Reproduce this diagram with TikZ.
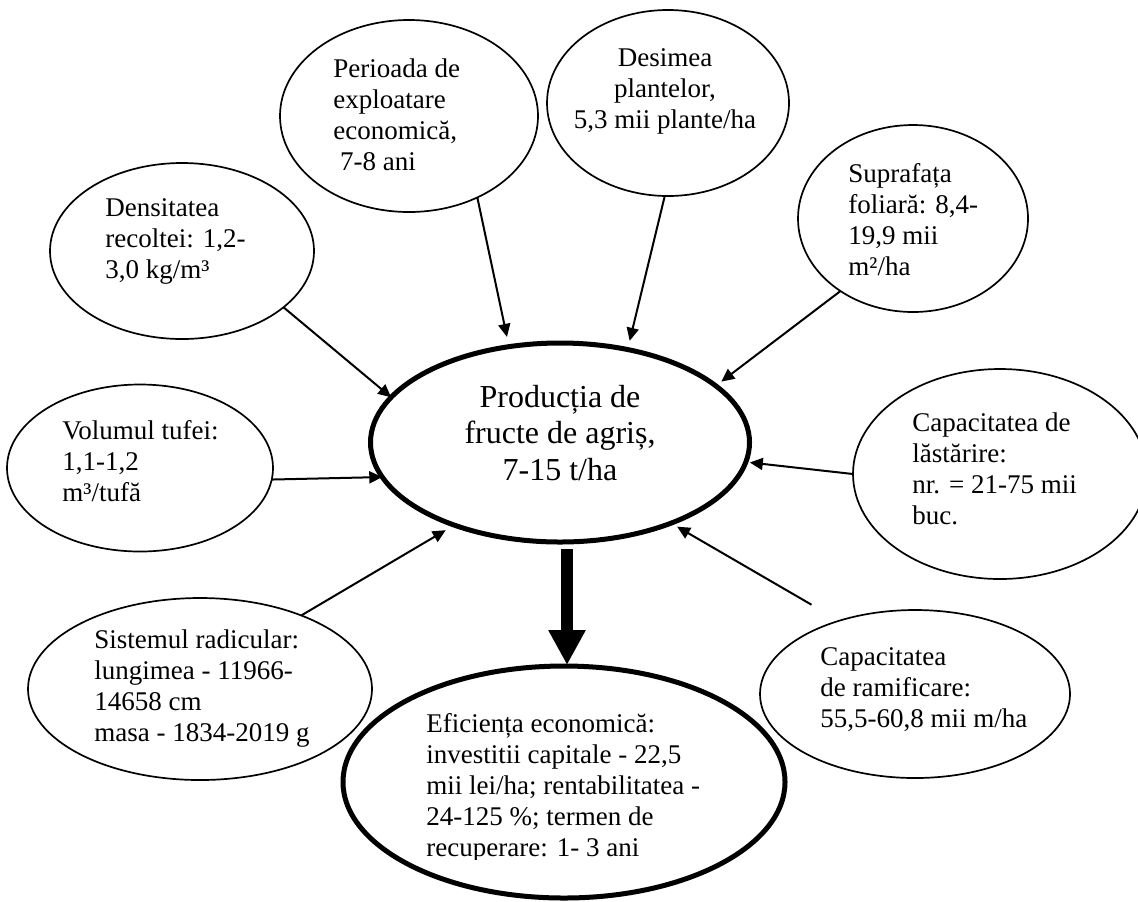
\documentclass[tikz,border=0pt]{standalone}
\usepackage{fontspec}
\setmainfont{Liberation Serif}
\usetikzlibrary{shapes.geometric,arrows.meta}
\tikzset{
  oval/.style={ellipse,draw,line width=0.85pt,inner sep=0pt,outer sep=0pt},
  thickoval/.style={oval,line width=2.5pt},
  txt/.style={inner sep=0pt,align=left,anchor=north west,
    font=\fontsize{13.5}{15.5}\selectfont,execute at begin node=\strut},
  ctxt/.style={txt,align=center,anchor=north,font=\fontsize{16}{18.25}\selectfont},
  arr/.style={line width=1pt,-{Triangle[length=6.5pt,width=6pt]}},
  bigarr/.style={line width=6pt,-{Triangle[length=17.5pt,width=17.5pt]}}
}
\def\bubble#1#2#3#4{%
  \draw (#1) node[oval,minimum width=#2pt,minimum height=#3pt] (#4) {};
}

\begin{document}
\begin{tikzpicture}[x=0.5pt,y=-0.5pt]
\useasboundingbox (0,0) rectangle (1138,901);
\draw (560,442.5) node[thickoval,minimum width=189.5pt,minimum height=99.5pt] (prod) {};
\draw (564,782) node[thickoval,minimum width=221pt,minimum height=116pt] (efic) {};
\bubble{409,116}{129}{96}{per}
\bubble{668,103}{121}{93}{des}
\bubble{913,218.5}{115}{93.5}{sup}
\bubble{182,251}{132}{88}{dens}
\bubble{140,468}{133}{83.5}{vol}
\bubble{200,689}{172}{91}{sis}
\bubble{1000,474}{147}{105}{las}
\bubble{915,694}{155}{84}{ram}

\draw (560,384.5) node[ctxt] (prodtxt) {Producția de\\fructe de agriș,\\7-15 t/ha};
\draw (333,58) node[txt] (pertxt) {Perioada de\\exploatare\\economică,\\\ 7-8 ani};
\draw (665,48) node[ctxt,font=\fontsize{13.5}{15.5}\selectfont] (destxt) {Desimea\\plantelor,\\5,3 mii plante/ha};
\draw (848,163) node[txt] (suptxt) {Suprafața\\foliară: 8,4-\\19,9 mii\\m²/ha};
\draw (105,198) node[txt] (denstxt) {Densitatea\\recoltei: 1,2-\\3,0 kg/m³};
\draw (62,420) node[txt] (voltxt) {Volumul tufei:\\1,1-1,2\\m³/tufă};
\draw (94,629) node[txt] (sistxt) {Sistemul radicular:\\lungimea - 11966-\\14658 cm\\masa - 1834-2019 g};
\draw (912,412) node[txt] (lastxt) {Capacitatea de\\lăstărire:\\nr. = 21-75 mii\\buc.};
\draw (820,647) node[txt] (ramtxt) {Capacitatea\\de ramificare:\\55,5-60,8 mii m/ha};
\begin{scope}
\clip (0,0) rectangle (1138,859);
\draw (426,713) node[txt] (efictxt) {Eficiența economică:\\investitii capitale - 22,5\\mii lei/ha; rentabilitatea -\\24-125 \%; termen de\\recuperare: 1- 3 ani};
\end{scope}

\draw[arr] (dens.-29.4) -- (prod.165);
\draw[arr,shorten >=5pt] (per.-50) -- (prod.118);
\draw[arr,shorten >=4.5pt] (des.-92) -- (prod.54.4);
\draw[arr,shorten >=3.5pt] (sup.-135.8) -- (prod.20.4);
\draw[arr,shorten >=2pt] (las.180) -- (prod.-6.15);
\draw[arr] (vol.-5.2) -- (prod.191.7);
\draw[arr,shorten >=5pt] (sis.36) -- (prod.-142.8);
\draw[arr,shorten <=16pt,shorten >=3.5pt] (ram.136.5) -- (prod.-36.9);
\draw[bigarr] ([shift={(7,7)}]prod.south) -- ([shift={(3,-1)}]efic.north);
\end{tikzpicture}
\end{document}
